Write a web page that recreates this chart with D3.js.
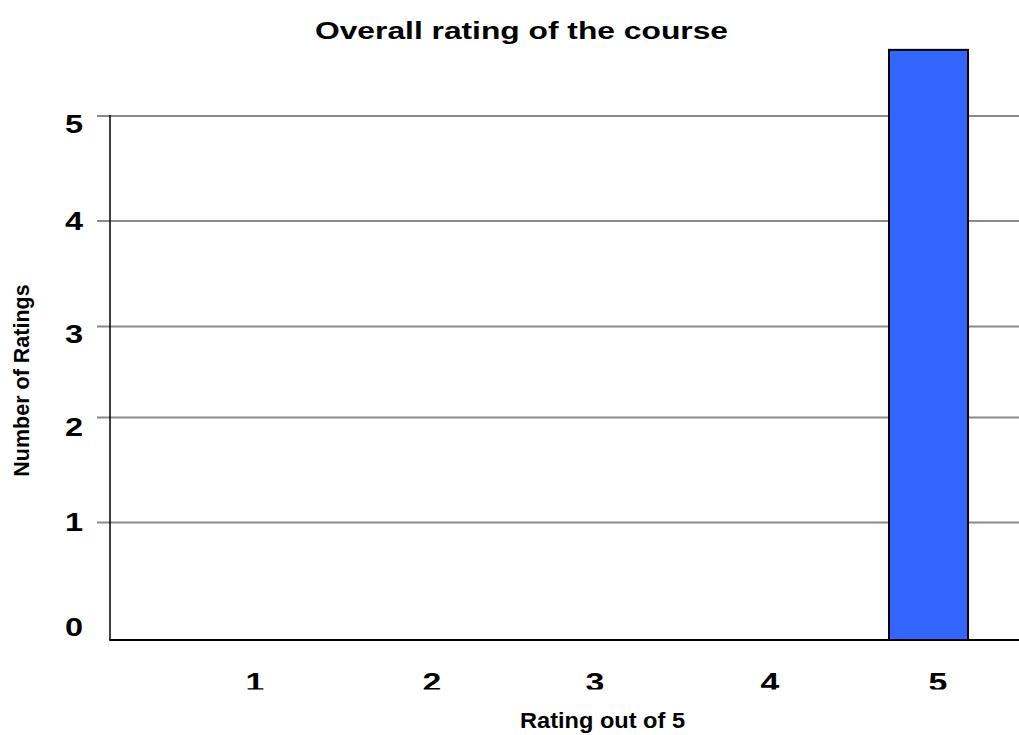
<!DOCTYPE html>
<html>
<head>
<meta charset="utf-8">
<script src="https://cdn.jsdelivr.net/npm/d3@7"></script>
<style>
  html, body { margin: 0; padding: 0; background: #fff; }
  svg { display: block; }
  text { font-family: "Liberation Sans", Arial, Helvetica, sans-serif; font-weight: bold; fill: #000; }
</style>
</head>
<body>
<svg id="chart" width="1019" height="735"></svg>
<script>
// Course rating histogram
const categories = ["1", "2", "3", "4", "5"];
const ratingCounts = [0, 0, 0, 0, 5.63];
const yTicks = [0, 1, 2, 3, 4, 5];
const yTickLabels = ["0", "1", "2", "3", "4", "5"];

const chartTitle = "Overall rating of the course";
const xTitle = "Rating out of 5";
const yTitle = "Number of Ratings";

const W = 1019, H = 735;
const plotLeft = 110, plotRight = W;

const svg = d3.select("#chart");

// Value axis (grid spacing as laid out by the original renderer)
const y = d3.scaleLinear().domain(yTicks).range([640, 522.5, 417.5, 326.5, 221, 116]);
const yLabelPos = d3.scaleLinear().domain(yTicks).range([627, 522, 427, 334, 221, 124]);
// Category positions
const x = d3.scaleOrdinal().domain(categories).range([255, 432, 595, 770, 938]);
const barWidth = 79, barShift = -9.5;

// Gridlines with short outside ticks
svg.append("g")
  .selectAll("line")
  .data(yTicks.filter(v => v > 0))
  .join("line")
  .attr("x1", plotLeft - 13)
  .attr("x2", plotRight)
  .attr("y1", d => y(d))
  .attr("y2", d => y(d))
  .attr("stroke", "#8a8a8a")
  .attr("stroke-width", 2);

// Bars
const data = categories.map((c, i) => ({ c, v: ratingCounts[i] }));
svg.append("g")
  .selectAll("rect")
  .data(data.filter(d => d.v > 0))
  .join("rect")
  .attr("x", d => x(d.c) - barWidth / 2 + barShift)
  .attr("y", d => y(d.v))
  .attr("width", barWidth)
  .attr("height", d => y(0) - y(d.v))
  .attr("fill", "#3366ff")
  .attr("stroke", "#000")
  .attr("stroke-width", 2);

// Axis lines
svg.append("line")
  .attr("x1", plotLeft).attr("x2", plotLeft)
  .attr("y1", y(5) - 1).attr("y2", y(0))
  .attr("stroke", "#000").attr("stroke-width", 1.5);
svg.append("line")
  .attr("x1", plotLeft - 0.75).attr("x2", plotRight)
  .attr("y1", y(0)).attr("y2", y(0))
  .attr("stroke", "#000").attr("stroke-width", 2);

// Y tick labels
svg.append("g")
  .selectAll("text")
  .data(yTicks)
  .join("text")
  .attr("transform", d => `translate(83,${yLabelPos(d) + 9}) scale(1.3,1)`)
  .attr("text-anchor", "end")
  .attr("font-size", 25)
  .text((d, i) => yTickLabels[i]);

// X tick labels (bottoms trimmed)
const defs = svg.append("defs");
defs.append("clipPath").attr("id", "xlabClip")
  .append("rect").attr("x", 0).attr("y", 650).attr("width", W).attr("height", 39.5);
svg.append("g")
  .attr("clip-path", "url(#xlabClip)")
  .selectAll("text")
  .data(categories)
  .join("text")
  .attr("transform", d => `translate(${x(d)},690.5) scale(1.35,1)`)
  .attr("text-anchor", "middle")
  .attr("font-size", 25)
  .text(d => d);

// Titles
svg.append("text")
  .attr("x", 521.5).attr("y", 38.5)
  .attr("text-anchor", "middle")
  .attr("font-size", 23.5)
  .attr("textLength", 413)
  .attr("lengthAdjust", "spacingAndGlyphs")
  .text(chartTitle);

svg.append("text")
  .attr("x", 602.5).attr("y", 728)
  .attr("text-anchor", "middle")
  .attr("font-size", 21.5)
  .attr("textLength", 165)
  .attr("lengthAdjust", "spacingAndGlyphs")
  .text(xTitle);

svg.append("text")
  .attr("transform", "translate(29,380.5) rotate(-90)")
  .attr("text-anchor", "middle")
  .attr("font-size", 21.5)
  .text(yTitle);
</script>
</body>
</html>
